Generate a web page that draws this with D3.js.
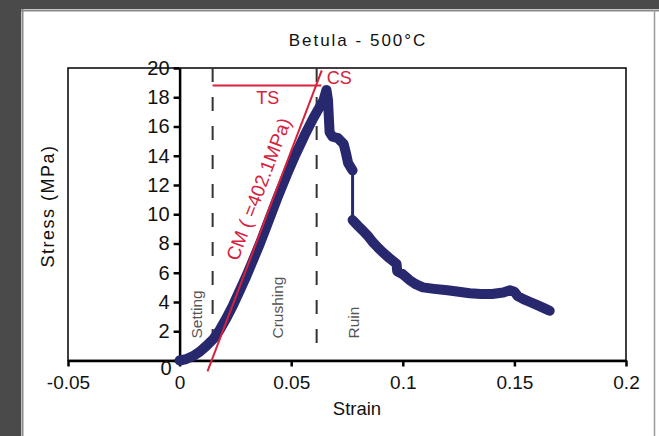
<!DOCTYPE html>
<html>
<head>
<meta charset="utf-8">
<script src="https://cdn.jsdelivr.net/npm/d3@7"></script>
<style>
  html, body { margin: 0; padding: 0; background: #4a4a4a; }
  svg { display: block; }
  text { font-family: "Liberation Sans", Arial, sans-serif; }
</style>
</head>
<body>
<svg id="chart" width="659" height="436"></svg>
<script>
// ---- data ----
const title = "Betula - 500°C";
const xLabel = "Strain";
const yLabel = "Stress (MPa)";
const xTicks = [-0.05, 0, 0.05, 0.1, 0.15, 0.2];
const yTicks = [0, 2, 4, 6, 8, 10, 12, 14, 16, 18, 20];

// loading branch (up to the sudden drop)
const strainA = [0, 0.003, 0.006, 0.009, 0.012, 0.015, 0.018, 0.021, 0.024, 0.027, 0.030, 0.033, 0.036, 0.040, 0.044, 0.048, 0.052, 0.056, 0.060, 0.063, 0.0645, 0.0658, 0.0665, 0.0668, 0.0672, 0.0685, 0.071, 0.0735, 0.0745, 0.0755, 0.0775];
const stressA = [0, 0.1, 0.3, 0.6, 1.0, 1.45, 2.1, 2.9, 3.8, 4.8, 5.8, 6.9, 8.0, 9.6, 11.2, 12.7, 14.1, 15.4, 16.6, 17.4, 17.8, 18.5, 17.8, 16.8, 15.6, 15.3, 15.2, 14.8, 14.2, 13.5, 13.0];
// post-failure branch
const strainB = [0.0775, 0.080, 0.082, 0.0845, 0.0865, 0.089, 0.091, 0.094, 0.0972, 0.0975, 0.100, 0.103, 0.106, 0.109, 0.114, 0.120, 0.125, 0.130, 0.135, 0.140, 0.145, 0.148, 0.150, 0.1515, 0.154, 0.157, 0.160, 0.163, 0.1658];
const stressB = [9.6, 9.2, 8.9, 8.5, 8.1, 7.7, 7.4, 7.0, 6.6, 6.1, 5.9, 5.5, 5.2, 5.0, 4.9, 4.8, 4.7, 4.6, 4.55, 4.55, 4.65, 4.8, 4.7, 4.4, 4.2, 4.0, 3.8, 3.6, 3.4];

// annotations
const phaseBounds = [0.0148, 0.0614];        // dashed separators (strain)
const phaseNames = ["Setting", "Crushing", "Ruin"];
const phaseLabelX = [0.0075, 0.044, 0.078];
const cmModulus = 402.1;                      // MPa
const cmOrigin = 0.01436;                     // strain intercept of CM line
const cmRange = [0.0125, 0.0637];
const tsStress = 18.8;
const tsRange = [0.0148, 0.0635];
const cmText = "CM ( =402.1MPa)";

// ---- layout ----
const svg = d3.select("#chart");
const W = 659, H = 436;

// panel
svg.append("rect").attr("x", 0).attr("y", 0).attr("width", W).attr("height", H).attr("fill", "#4a4a4a");
svg.append("rect").attr("x", 21).attr("y", 9).attr("width", W - 21).attr("height", H - 9).attr("fill", "#ffffff");
svg.append("line").attr("x1", 22.5).attr("x2", 22.5).attr("y1", 9).attr("y2", H).attr("stroke", "#8a8a8a").attr("stroke-width", 2);
svg.append("line").attr("x1", 21).attr("x2", W).attr("y1", 10.5).attr("y2", 10.5).attr("stroke", "#8a8a8a").attr("stroke-width", 2);
svg.append("line").attr("x1", 654.5).attr("x2", 654.5).attr("y1", 10).attr("y2", H).attr("stroke", "#9a9a9a").attr("stroke-width", 1.5);

const x = d3.scaleLinear().domain([-0.05, 0.2]).range([68, 626]);
const y = d3.scaleLinear().domain([0, 20]).range([360.5, 68]);

// frame
svg.append("rect").attr("x", x(-0.05)).attr("y", y(20)).attr("width", x(0.2) - x(-0.05)).attr("height", y(0) - y(20))
  .attr("fill", "none").attr("stroke", "#000").attr("stroke-width", 1.5);

// x axis at stress 0
const xAxis = d3.axisBottom(x).tickValues(xTicks).tickSize(6).tickSizeOuter(0)
  .tickFormat(d => d === 0 ? "0" : String(+d.toFixed(2)));
const gx = svg.append("g").attr("transform", `translate(0,${y(0)})`).call(xAxis);
gx.select(".domain").attr("stroke-width", 2.5);
gx.selectAll(".tick line").attr("stroke-width", 2.5);
gx.selectAll("text").attr("font-size", 19).attr("dy", "1.05em").attr("fill", "#111");

// y axis at strain 0
const yAxis = d3.axisLeft(y).tickValues(yTicks).tickSize(6).tickSizeOuter(0).tickFormat(d3.format("d"));
const gy = svg.append("g").attr("transform", `translate(${x(0)},0)`).call(yAxis);
gy.select(".domain").attr("stroke-width", 2.5);
gy.selectAll(".tick line").attr("stroke-width", 2.5);
gy.selectAll("text").attr("font-size", 20).attr("fill", "#111").attr("dx", "-0.05em");
gy.selectAll(".tick").filter(d => d === 0).select("text").attr("dy", "0.7em").attr("dx", "0.05em");

// phase separators
phaseBounds.forEach(b => {
  svg.append("line").attr("x1", x(b)).attr("x2", x(b)).attr("y1", y(20)).attr("y2", y(1.0))
    .attr("stroke", "#333").attr("stroke-width", 2).attr("stroke-dasharray", "14,15");
});
phaseNames.forEach((n, i) => {
  const px = x(phaseLabelX[i]), py = y(1.5);
  svg.append("text").attr("transform", `translate(${px},${py}) rotate(-90)`)
    .attr("font-family", "'Liberation Sans Narrow', 'DejaVu Sans Condensed', sans-serif")
    .attr("font-size", 15.5).attr("fill", "#555").attr("text-anchor", "start").attr("dy", "0.35em").text(n);
});

// data curve
const line = d3.line().x(d => x(d[0])).y(d => y(d[1]));
const curveColor = "#28286e";
const ptsA = strainA.map((s, i) => [s, stressA[i]]);
const ptsB = strainB.map((s, i) => [s, stressB[i]]);
svg.append("path").attr("d", line([ptsA[ptsA.length - 1], ptsB[0]])).attr("fill", "none")
  .attr("stroke", curveColor).attr("stroke-width", 3);
[ptsA, ptsB].forEach(p => {
  svg.append("path").attr("d", line(p)).attr("fill", "none").attr("stroke", curveColor)
    .attr("stroke-width", 10).attr("stroke-linejoin", "round").attr("stroke-linecap", "round");
});

// CM line (modulus)
const red = "#d6223c";
const cmPts = cmRange.map(s => [s, cmModulus * (s - cmOrigin)]);
svg.append("path").attr("d", line(cmPts)).attr("stroke", red).attr("stroke-width", 2).attr("fill", "none");
// TS line
svg.append("path").attr("d", line(tsRange.map(s => [s, tsStress]))).attr("stroke", red).attr("stroke-width", 2).attr("fill", "none");

// annotations
const ang = Math.atan2(y(cmPts[1][1]) - y(cmPts[0][1]), x(cmPts[1][0]) - x(cmPts[0][0])) * 180 / Math.PI;
const cmMidS = 0.0425;
svg.append("text").attr("transform", `translate(${x(cmMidS)},${y(cmModulus * (cmMidS - cmOrigin))}) rotate(${ang})`)
  .attr("text-anchor", "middle").attr("dy", "-0.55em").attr("font-size", 19).attr("fill", red).text(cmText);
svg.append("text").attr("x", x(0.0395)).attr("y", y(tsStress)).attr("dy", "1.05em").attr("text-anchor", "middle")
  .attr("font-size", 18).attr("fill", red).text("TS");
svg.append("text").attr("x", x(0.0715)).attr("y", y(20)).attr("dy", "0.9em").attr("text-anchor", "middle")
  .attr("font-size", 18).attr("fill", red).text("CS");

// titles
svg.append("text").attr("x", 358).attr("y", 46).attr("text-anchor", "middle").attr("font-size", 17)
  .attr("letter-spacing", 2).attr("fill", "#111").text(title);
svg.append("text").attr("x", 357).attr("y", 415).attr("text-anchor", "middle").attr("font-size", 18.5)
  .attr("fill", "#111").text(xLabel);
svg.append("text").attr("transform", "translate(54,206) rotate(-90)").attr("text-anchor", "middle")
  .attr("font-size", 18).attr("letter-spacing", 1.5).attr("fill", "#111").text(yLabel);
</script>
</body>
</html>
